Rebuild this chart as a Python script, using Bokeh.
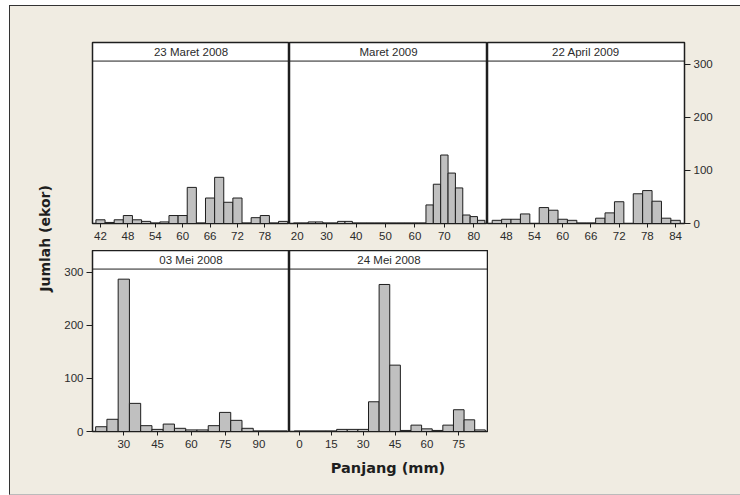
import math
from bokeh.plotting import figure
from bokeh.models import Range1d, FixedTicker, LinearAxis, Span, Label
from bokeh.layouts import row, column
from bokeh.embed import file_html
from bokeh.resources import INLINE

# ---------------- data ----------------
y_ticks = [0, 100, 200, 300]

p1_title = "23 Maret 2008"
p1_centers = [42, 44, 46, 48, 50, 52, 54, 56, 58, 60, 62, 64, 66, 68, 70, 72, 74, 76, 78, 80, 82]
p1_counts = [7, 2, 7, 15, 7, 4, 1, 3, 15, 15, 68, 1, 48, 87, 40, 48, 1, 11, 15, 1, 4]
p1_bin = 2
p1_ticks = [42, 48, 54, 60, 66, 72, 78]

p2_title = "Maret 2009"
p2_centers = [20, 22.5, 25, 27.5, 30, 32.5, 35, 37.5, 40, 42.5, 45, 47.5, 50, 52.5, 55, 57.5,
              60, 62.5, 65, 67.5, 70, 72.5, 75, 77.5, 80, 82.5]
p2_counts = [1, 1, 3, 3, 1, 1, 4, 4, 1, 1, 1, 1, 1, 1, 1, 1,
             1, 1, 35, 74, 129, 95, 67, 16, 13, 6]
p2_bin = 2.5
p2_ticks = [20, 30, 40, 50, 60, 70, 80]

p3_title = "22 April 2009"
p3_centers = [46, 48, 50, 52, 54, 56, 58, 60, 62, 64, 66, 68, 70, 72, 74, 76, 78, 80, 82, 84]
p3_counts = [6, 8, 8, 18, 0, 30, 25, 8, 6, 1, 1, 10, 20, 41, 0, 56, 62, 42, 10, 6]
p3_bin = 2
p3_ticks = [48, 54, 60, 66, 72, 78, 84]

p4_title = "03 Mei 2008"
p4_centers = [20, 25, 30, 35, 40, 45, 50, 55, 60, 65, 70, 75, 80, 85, 90, 95, 100]
p4_counts = [9, 23, 287, 53, 11, 4, 14, 6, 3, 3, 11, 36, 21, 6, 1, 1, 1]
p4_bin = 5
p4_ticks = [30, 45, 60, 75, 90]

p5_title = "24 Mei 2008"
p5_centers = [0, 5, 10, 15, 20, 25, 30, 35, 40, 45, 50, 55, 60, 65, 70, 75, 80, 85]
p5_counts = [1, 1, 1, 1, 4, 4, 4, 56, 277, 125, 2, 12, 5, 2, 12, 41, 22, 3]
p5_bin = 5
p5_ticks = [0, 15, 30, 45, 60, 75]

y_label = "Jumlah (ekor)"
x_label = "Panjang (mm)"

# ---------------- style ----------------
BEIGE = "#f0ece2"
DARK = "#1e1e1e"
TXT = "#2b2b2b"
FONT = "Liberation Sans"
Y_TOP = 341
HEADER = 306


def panel(title, centers, counts, bw, xr, xticks, w, h, left=0, right=0, top=0, bottom=0, yaxis=None):
    p = figure(width=w, height=h, x_range=Range1d(*xr), y_range=Range1d(0, Y_TOP),
               output_backend="svg", toolbar_location=None, title=None,
               x_axis_type=None, y_axis_type=None)
    p.min_border = 0
    p.min_border_left = left
    p.min_border_right = right
    p.min_border_top = top
    p.min_border_bottom = bottom
    p.background_fill_color = "white"
    p.border_fill_color = BEIGE
    p.outline_line_color = DARK
    p.outline_line_width = 1.5
    p.vbar(x=centers, width=bw, top=counts, bottom=0, fill_color="#c0c0c0",
           line_color=DARK, line_width=1)
    ax = LinearAxis(ticker=FixedTicker(ticks=xticks), major_tick_in=0, major_tick_out=4,
                    minor_tick_line_color=None, axis_line_color=DARK,
                    major_tick_line_color=DARK, major_label_text_font=FONT,
                    major_label_text_font_size="11.5px", major_label_text_color=TXT,
                    major_label_standoff=4)
    p.add_layout(ax, "below")
    if yaxis:
        ya = LinearAxis(ticker=FixedTicker(ticks=y_ticks), major_tick_in=0, major_tick_out=6,
                        minor_tick_line_color=None, axis_line_color=DARK,
                        major_tick_line_color=DARK, major_label_text_font=FONT,
                        major_label_text_font_size="11.5px", major_label_text_color=TXT,
                        major_label_standoff=3)
        p.add_layout(ya, yaxis)
    p.add_layout(Span(location=HEADER, dimension="width", line_color=DARK, line_width=1))
    p.add_layout(Label(x=(xr[0] + xr[1]) / 2, y=(HEADER + Y_TOP) / 2, text=title,
                       text_align="center", text_baseline="middle", text_font=FONT,
                       text_font_size="11.5px", text_color=TXT))
    return p


f1 = panel(p1_title, p1_centers, p1_counts, p1_bin, (40.25, 83.4), p1_ticks, 229, 244,
           left=32, top=36, bottom=27)
f2 = panel(p2_title, p2_centers, p2_counts, p2_bin, (17.4, 84.65), p2_ticks, 198, 244,
           top=36, bottom=27)
f3 = panel(p3_title, p3_centers, p3_counts, p3_bin, (44.0, 85.9), p3_ticks, 253, 244,
           right=56, top=36, bottom=27, yaxis="right")
f4 = panel(p4_title, p4_centers, p4_counts, p4_bin, (16.1, 103.6), p4_ticks, 229, 206,
           left=32, bottom=25, yaxis="left")
f5 = panel(p5_title, p5_centers, p5_counts, p5_bin, (-4.7, 89.0), p5_ticks, 199, 206,
           bottom=25)


def blank(w, h):
    p = figure(width=w, height=h, x_range=Range1d(0, w), y_range=Range1d(h, 0),
               output_backend="svg", toolbar_location=None, title=None,
               x_axis_type=None, y_axis_type=None)
    p.min_border = 0
    p.outline_line_color = None
    p.background_fill_color = BEIGE
    p.border_fill_color = BEIGE
    return p


ylab = blank(50, 488)
ylab.add_layout(Label(x=34.5, y=232, text=y_label, angle=math.pi / 2, text_align="center",
                      text_baseline="middle", text_font="DejaVu Sans", text_font_style="bold",
                      text_font_size="14px", text_color=DARK))

xlab = blank(680, 38)
xlab.add_layout(Label(x=327.5, y=11, text=x_label, text_align="center",
                      text_baseline="middle", text_font="DejaVu Sans", text_font_style="bold",
                      text_font_size="14.5px", text_color=DARK))

root = row(ylab, column(row(f1, f2, f3), row(f4, f5), xlab),
           styles={"background-color": BEIGE, "border-left": "1px solid #333",
                   "border-top": "1px solid #333", "border-bottom": "1px solid #bbb",
                   "margin-left": "9px", "margin-top": "5px"})

open("out.html", "w").write(file_html(root, INLINE))
